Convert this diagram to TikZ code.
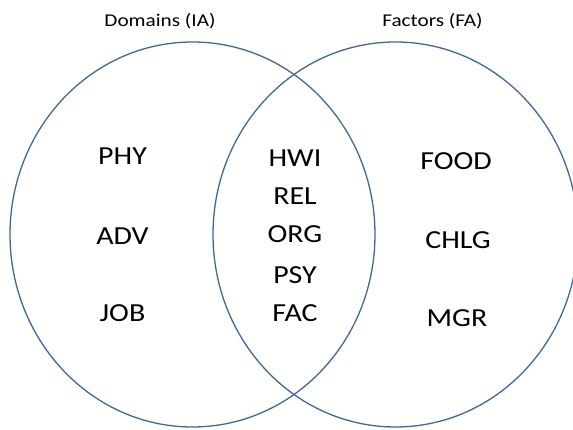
\documentclass[tikz,border=0pt]{standalone}
\usepackage{fontspec}
\setmainfont{Carlito}
\begin{document}
\begin{tikzpicture}[x=1pt,y=1pt,
  setline/.style={draw=setblue, line width=1.3pt},
  item/.style={anchor=base, inner sep=0pt, xscale=1.15, transform shape,
    font=\fontsize{26}{30}\selectfont},
  settitle/.style={anchor=base, inner sep=0pt, xscale=1.18, transform shape,
    font=\fontsize{18}{22}\selectfont}]
\definecolor{setblue}{HTML}{41679A}
\useasboundingbox (0,0) rectangle (573,430);
\clip (0,0) rectangle (573,430);

% the two overlapping sets
\draw[setline] (192.5,195.5) ellipse [x radius=182.5, y radius=192.5];
\draw[setline] (395.5,195.5) ellipse [x radius=182.5, y radius=192.5];

% set titles
\node[settitle] (ia) at (160,403.3) {Domains (IA)};
\node[settitle] (fa) at (432.5,403.3) {Factors (FA)};

% domains only
\node[item] (phy) at (122.5,265) {PHY};
\node[item] (adv) at (122.5,185) {ADV};
\node[item] (job) at (122.5,108.3) {JOB};

% shared by both
\node[item] (hwi) at (295,263.3) {HWI};
\node[item] (rel) at (295,225) {REL};
\node[item] (org) at (295,187) {ORG};
\node[item] (psy) at (295,146) {PSY};
\node[item] (fac) at (295,108.3) {FAC};

% factors only
\node[item] (food) at (456,260) {FOOD};
\node[item] (chlg) at (458,181) {CHLG};
\node[item] (mgr) at (457,103.3) {MGR};
\end{tikzpicture}
\end{document}
